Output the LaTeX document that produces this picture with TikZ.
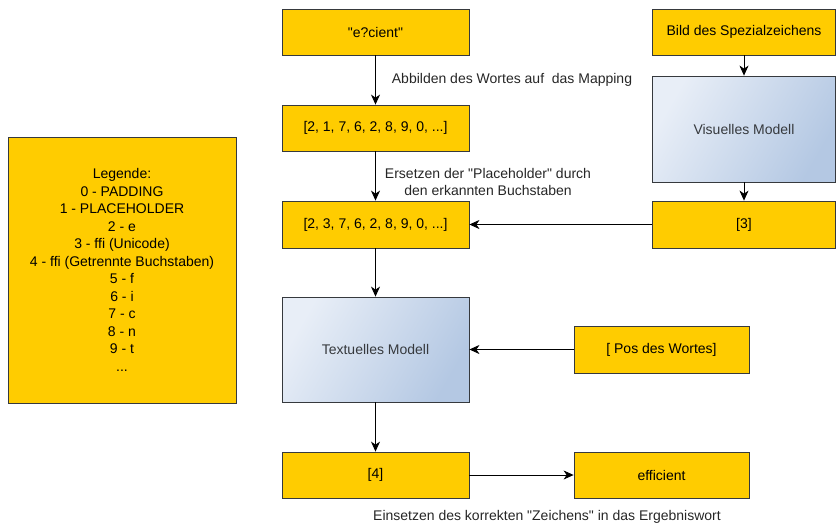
\documentclass[tikz,border=0pt]{standalone}
\usepackage{fontspec}
\setmainfont{Liberation Sans}[Ligatures=TeXOff]
\usetikzlibrary{arrows.meta,positioning}
\definecolor{ybox}{HTML}{FFCC00}
\definecolor{bord}{HTML}{36393D}
\definecolor{gradA}{HTML}{E8EEF7}
\definecolor{gradB}{HTML}{B4C8E3}
\tikzset{
  ybox/.style={draw=bord, fill=ybox, line width=0.8pt, inner sep=0pt, font=\fontsize{14}{16}\selectfont},
  mbox/.style={draw=bord, line width=0.8pt, inner sep=0pt, shading=axis, left color=gradA, right color=gradB, shading angle=60, font=\fontsize{14}{16}\selectfont, text=bord},
  arr/.style={-{Stealth[length=10pt,width=9pt,inset=3pt]}, line width=0.8pt},
  lbl/.style={font=\fontsize{14}{16.5}\selectfont, text=black!85, align=center, inner sep=0pt}
}
\begin{document}
\begin{tikzpicture}[x=1pt,y=-1pt]
\useasboundingbox (0,0) rectangle (836,525);
% legend
\node[ybox, minimum width=228pt, minimum height=266pt, align=center, font=\fontsize{14}{17.5}\selectfont] (leg) at (122,270)
{Legende:\\0 - PADDING\\1 - PLACEHOLDER\\2 - e\\3 - ffi (Unicode)\\4 - ffi (Getrennte Buchstaben)\\5 - f\\6 - i\\7 - c\\8 - n\\9 - t\\...};
% middle column
\node[ybox, minimum width=187pt, minimum height=46pt] (w) at (375.5,32) {"e?cient"};
\node[ybox, minimum width=187pt, minimum height=46pt] (m1) at (375.5,128) {[2, 1, 7, 6, 2, 8, 9, 0, ...]};
\node[ybox, minimum width=187pt, minimum height=47pt] (m2) at (375.5,224.5) {[2, 3, 7, 6, 2, 8, 9, 0, ...]};
\node[mbox, minimum width=187pt, minimum height=105pt] (tm) at (375.5,349.5) {Textuelles Modell};
\node[ybox, minimum width=187pt, minimum height=46pt] (r4) at (375.5,475) {[4]};
% right column
\node[ybox, minimum width=183pt, minimum height=46pt] (bild) at (744,32) {Bild des Spezialzeichens};
\node[mbox, minimum width=183pt, minimum height=106pt] (vm) at (744,129) {Visuelles Modell};
\node[ybox, minimum width=183pt, minimum height=47pt] (r3) at (744,224.5) {[3]};
\node[ybox, minimum width=175pt, minimum height=47pt] (pos) at (661.5,349.5) {[ Pos des Wortes]};
\node[ybox, minimum width=175pt, minimum height=46pt] (eff) at (661.5,475) {efficient};
% arrows
\draw[arr] (w) -- (m1);
\draw[arr] (m1) -- (m2);
\draw[arr] (m2) -- (tm);
\draw[arr] (tm) -- (r4);
\draw[arr] (bild) -- (vm);
\draw[arr] (vm) -- (r3);
\draw[arr] (r3) -- (m2);
\draw[arr] (pos) -- (tm);
\draw[arr] (r4) -- (eff);
% labels
\node[lbl] (l1) at (512,80) {Abbilden des Wortes auf\ \ das Mapping};
\node[lbl] (l2) at (488,182) {Ersetzen der "Placeholder" durch\\den erkannten Buchstaben};
\node[lbl] (l3) at (547,517) {Einsetzen des korrekten "Zeichens" in das Ergebniswort};
\end{tikzpicture}
\end{document}
